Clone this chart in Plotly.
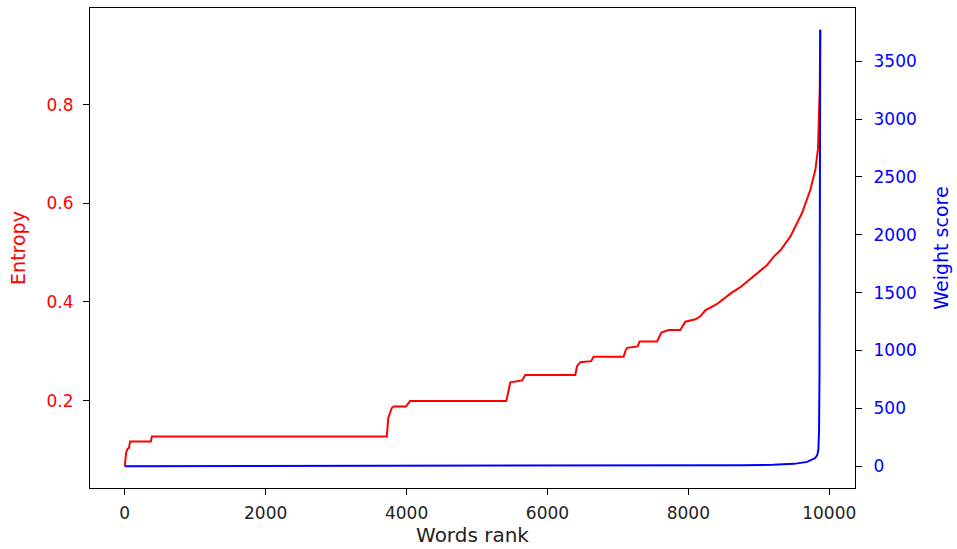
import plotly.graph_objects as go

# Entropy (red, left axis) vs word rank
rank_entropy = [0, 20, 40, 60, 75, 370, 385, 3720, 3740, 3770, 3790, 3815, 3990, 4050,
                5415, 5440, 5472, 5640, 5685, 6395, 6420, 6466, 6620, 6655, 7081, 7110,
                7130, 7280, 7309, 7556, 7617, 7720, 7886, 7957, 8100, 8170, 8241, 8408,
                8596, 8738, 8880, 9118, 9212, 9307, 9449, 9615, 9733, 9804, 9840, 9855,
                9865, 9872]
entropy = [0.067, 0.095, 0.102, 0.104, 0.117, 0.117, 0.127, 0.127, 0.165, 0.175, 0.185,
           0.188, 0.188, 0.199, 0.199, 0.215, 0.237, 0.241, 0.252, 0.252, 0.270, 0.278,
           0.280, 0.289, 0.289, 0.302, 0.307, 0.310, 0.320, 0.320, 0.338, 0.343, 0.343,
           0.360, 0.365, 0.371, 0.383, 0.396, 0.417, 0.430, 0.447, 0.475, 0.492, 0.505,
           0.533, 0.581, 0.628, 0.669, 0.710, 0.764, 0.832, 0.952]

# Weight score (blue, right axis) vs word rank
rank_weight = [0, 2000, 4000, 6000, 8000, 8738, 9200, 9500, 9686, 9800, 9830, 9845,
               9855, 9862, 9868, 9872]
weight = [0, 1, 2, 3, 5, 8, 12, 20, 37, 70, 95, 140, 300, 800, 2500, 3772]

x_ticks = [0, 2000, 4000, 6000, 8000, 10000]
y1_ticks = [0.2, 0.4, 0.6, 0.8]
y2_ticks = [0, 500, 1000, 1500, 2000, 2500, 3000, 3500]


def padded(lo, hi, frac=0.05):
    d = (hi - lo) * frac
    return [lo - d, hi + d]


xmax = max(max(rank_entropy), max(rank_weight))

fig = go.Figure()
fig.add_trace(go.Scatter(x=rank_entropy, y=entropy, mode="lines",
                         line=dict(color="#ff0000", width=2), yaxis="y",
                         showlegend=False))
fig.add_trace(go.Scatter(x=rank_weight, y=weight, mode="lines",
                         line=dict(color="#0000ff", width=2), yaxis="y2",
                         showlegend=False))

tick_font = dict(family="DejaVu Sans", size=17)
title_font_family = "DejaVu Sans"

fig.update_layout(
    width=957, height=549,
    margin=dict(l=90, r=102, t=8, b=61),
    paper_bgcolor="white", plot_bgcolor="white",
    xaxis=dict(range=padded(0, xmax), tickvals=x_ticks,
               ticktext=[str(v) for v in x_ticks],
               showgrid=False, zeroline=False, showline=True, linecolor="black",
               linewidth=1.2, mirror=True, ticks="outside", ticklen=6,
               tickcolor="black", tickfont=dict(tick_font, color="#222222"),
               ticklabelstandoff=3,
               title=dict(text="Words rank", standoff=3,
                          font=dict(family=title_font_family, size=20, color="#222222"))),
    yaxis=dict(range=padded(min(entropy), max(entropy)), tickvals=y1_ticks,
               ticktext=[f"{v:.1f}" for v in y1_ticks],
               showgrid=False, zeroline=False, showline=True, linecolor="black",
               linewidth=1.2, ticks="outside", ticklen=6, tickcolor="black",
               tickfont=dict(tick_font, color="#ff0000"), ticklabelstandoff=6,
               title=dict(text="Entropy", standoff=15,
                          font=dict(family=title_font_family, size=19, color="#ff0000"))),
    yaxis2=dict(range=padded(min(weight), max(weight)), tickvals=y2_ticks,
                ticktext=[str(v) for v in y2_ticks],
                overlaying="y", side="right",
                showgrid=False, zeroline=False, showline=True, linecolor="black",
                linewidth=1.2, ticks="outside", ticklen=6, tickcolor="black",
                tickfont=dict(tick_font, color="#0000ff"), ticklabelstandoff=8,
                title=dict(text="Weight score", standoff=18,
                           font=dict(family=title_font_family, size=19, color="#0000ff"))),
)

fig.write_html("out.html")
